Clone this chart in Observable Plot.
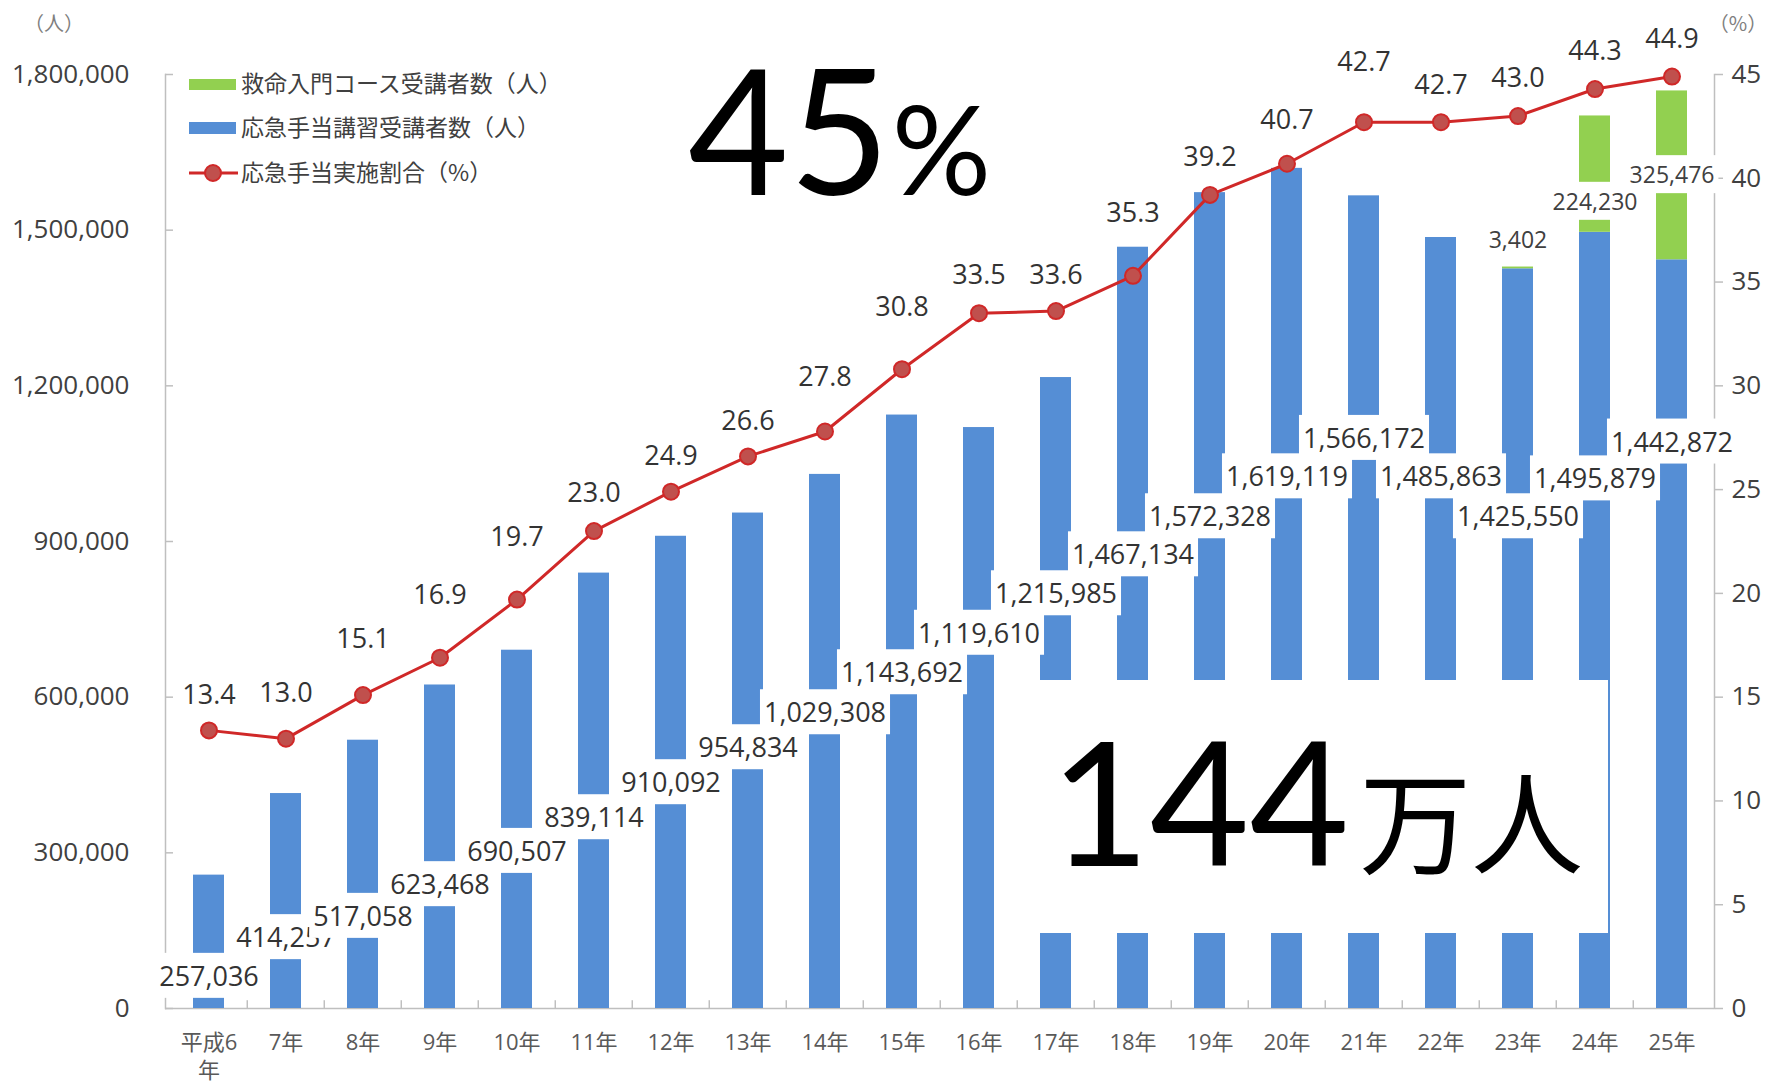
<!DOCTYPE html>
<html>
<head>
<meta charset="utf-8">
<script src="https://cdn.jsdelivr.net/npm/d3@7"></script>
<script src="https://cdn.jsdelivr.net/npm/@observablehq/plot@0.6"></script>
<style>
html,body{margin:0;padding:0;background:#fff;}
#wrap{position:relative;width:1777px;height:1083px;overflow:hidden;background:#fff;}
#wrap svg.overlay{position:absolute;left:0;top:0;pointer-events:none;}
#wrap svg.chart{position:absolute;left:0;top:0;}
</style>
</head>
<body>
<div id="wrap"></div>
<script>
// ---------- data ----------
const years = ["平成6年","7年","8年","9年","10年","11年","12年","13年","14年","15年","16年","17年","18年","19年","20年","21年","22年","23年","24年","25年"];
const xTickLabels = ["平成6\n年","7年","8年","9年","10年","11年","12年","13年","14年","15年","16年","17年","18年","19年","20年","21年","22年","23年","24年","25年"];
const seriesNames = ["救命入門コース受講者数（人）", "応急手当講習受講者数（人）", "応急手当実施割合（%）"];
const blueCounts = [257036, 414257, 517058, 623468, 690507, 839114, 910092, 954834, 1029308, 1143692, 1119610, 1215985, 1467134, 1572328, 1619119, 1566172, 1485863, 1425550, 1495879, 1442872];
const greenCounts = [0, 0, 0, 0, 0, 0, 0, 0, 0, 0, 0, 0, 0, 0, 0, 0, 0, 3402, 224230, 325476];
const rates = [13.4, 13.0, 15.1, 16.9, 19.7, 23.0, 24.9, 26.6, 27.8, 30.8, 33.5, 33.6, 35.3, 39.2, 40.7, 42.7, 42.7, 43.0, 44.3, 44.9];
// where each data label sits, in the units of its own axis
const blueLabelAt = [60300, 134900, 175900, 237000, 301100, 366000, 433500, 500900, 568300, 645400, 721500, 797600, 872700, 946000, 1023000, 1097000, 1023000, 946000, 1019000, 1090000];
const greenLabelAt = [null, null, null, null, null, null, null, null, null, null, null, null, null, null, null, null, null, 1479600, 1553400, 1604800];
const rateLabelAt = [15.1, 15.2, 17.8, 19.9, 22.7, 24.8, 26.6, 28.3, 30.4, 33.8, 35.3, 35.3, 38.3, 41.0, 42.8, 45.6, 44.5, 44.8, 46.1, 46.7];
const leftTicks = [0, 300000, 600000, 900000, 1200000, 1500000, 1800000];
const rightTicks = [0, 5, 10, 15, 20, 25, 30, 35, 40, 45];
const leftMax = 1800000, rightMax = 45;

// ---------- layout ----------
const W = 1777, H = 1083;
const M = {top: 74, right: 63, bottom: 75, left: 165};
const PER_PCT = leftMax / rightMax;
const step = (W - M.left - M.right) / years.length;
const fmt = d3.format(",");
const FONT = '"Open Sans","Noto Sans CJK JP",sans-serif';
const BLUE = "#558ED5", GREEN = "#92D050", RED = "#D02828", MARK = "#C0504D", AXIS = "#BFBFBF";

const barRows = [];
years.forEach((y, i) => barRows.push({year: y, series: seriesNames[1], value: blueCounts[i]}));
years.forEach((y, i) => barRows.push({year: y, series: seriesNames[0], value: greenCounts[i]}));
const rateRows = years.map((y, i) => ({year: y, rate: rates[i], at: rateLabelAt[i]}));
const blueLabels = years.map((y, i) => ({year: y, text: fmt(blueCounts[i]), at: blueLabelAt[i]}));
const greenLabels = years.map((y, i) => ({year: y, text: fmt(greenCounts[i]), at: greenLabelAt[i]})).filter((d, i) => greenCounts[i] > 0);

const chart = Plot.plot({
  width: W, height: H,
  marginTop: M.top, marginRight: M.right, marginBottom: M.bottom, marginLeft: M.left,
  style: {fontFamily: FONT, background: "white", overflow: "visible"},
  x: {type: "band", domain: years, paddingInner: 0.6, paddingOuter: 0.3, axis: null},
  y: {domain: [0, leftMax], axis: null},
  color: {domain: [seriesNames[1], seriesNames[0]], range: [BLUE, GREEN]},
  marks: [
    Plot.frame({anchor: "left", stroke: AXIS, strokeWidth: 1.5}),
    Plot.frame({anchor: "right", stroke: AXIS, strokeWidth: 1.5}),
    Plot.ruleY([0], {stroke: AXIS, strokeWidth: 1.5}),
    Plot.axisY(leftTicks, {anchor: "left", tickSize: -8, fill: "none", stroke: AXIS, strokeWidth: 1.5, label: null}),
    Plot.axisY(leftTicks, {anchor: "left", tickSize: 0, tickPadding: 36, tickFormat: fmt, fill: "#404040", fontSize: 26, label: null}),
    Plot.axisY(rightTicks.map(p => p * PER_PCT), {anchor: "right", tickSize: 8, tickPadding: 9, tickFormat: d => String(Math.round(d / PER_PCT)), stroke: AXIS, strokeWidth: 1.5, fill: "#404040", fontSize: 26, label: null}),
    Plot.axisX({tickSize: 0, tickPadding: 22, tickFormat: d => xTickLabels[years.indexOf(d)], fill: "#595959", fontSize: 22, lineHeight: 1.25, label: null}),
    Plot.ruleX(years.slice(1), {x: d => d, y1: 0, y2: 15000, dx: -step / 2, stroke: AXIS, strokeWidth: 1.5}),
    Plot.barY(barRows, {x: "year", y: "value", fill: "series"}),
    Plot.line(rateRows, {x: "year", y: d => d.rate * PER_PCT, stroke: RED, strokeWidth: 3}),
    Plot.dot(rateRows, {x: "year", y: d => d.rate * PER_PCT, r: 8, fill: MARK, stroke: RED, strokeWidth: 2}),
    Plot.text(blueLabels, {x: "year", y: "at", text: "text", fill: "#333333", fontSize: 27}),
    Plot.text(greenLabels, {x: "year", y: "at", text: "text", fill: "#404040", fontSize: 23}),
    Plot.text(rateRows, {x: "year", y: d => d.at * PER_PCT, text: d => d.rate.toFixed(1), fill: "#333333", fontSize: 27})
  ]
});
chart.classList.add("chart");
const wrap = document.getElementById("wrap");
wrap.appendChild(chart);

// white boxes behind data labels (drawn label by label, as in the original)
const svgRoot = chart.tagName.toLowerCase() === "svg" ? chart : chart.querySelector("svg");
const textGroups = Array.from(svgRoot.querySelectorAll('g[aria-label="text"]'));
function addBoxes(group, padX, padY) {
  if (!group) return;
  Array.from(group.querySelectorAll("text")).forEach(t => {
    const b = t.getBBox();
    const r = document.createElementNS("http://www.w3.org/2000/svg", "rect");
    r.setAttribute("x", b.x - padX);
    r.setAttribute("y", b.y - padY);
    r.setAttribute("width", b.width + 2 * padX);
    r.setAttribute("height", b.height + 2 * padY);
    r.setAttribute("fill", "white");
    if (t.getAttribute("transform")) r.setAttribute("transform", t.getAttribute("transform"));
    t.parentNode.insertBefore(r, t);
  });
}
addBoxes(textGroups[0], 4, 4);
addBoxes(textGroups[1], 4, 3);

// ---------- overlay: legend, units, callouts ----------
const ov = d3.create("svg").attr("class", "overlay").attr("width", W).attr("height", H)
  .attr("font-family", FONT);
// unit labels
ov.append("text").attr("x", 54).attr("y", 24).attr("text-anchor", "middle").attr("dy", "0.35em")
  .attr("font-size", 20).attr("fill", "#7f7f7f").attr("font-family", '"Noto Sans CJK JP",sans-serif').text("（人）");
ov.append("text").attr("x", 1738).attr("y", 24).attr("text-anchor", "middle").attr("dy", "0.35em")
  .attr("font-size", 20).attr("fill", "#7f7f7f").attr("font-family", '"Noto Sans CJK JP",sans-serif').text("（%）");
// legend
const lg = ov.append("g").attr("font-family", '"Noto Sans CJK JP",sans-serif').attr("font-size", 23).attr("fill", "#404040");
lg.append("rect").attr("x", 189).attr("y", 79).attr("width", 47).attr("height", 11).attr("fill", GREEN);
lg.append("text").attr("x", 241).attr("y", 84).attr("dy", "0.35em").text(seriesNames[0]);
lg.append("rect").attr("x", 189).attr("y", 122).attr("width", 47).attr("height", 12).attr("fill", BLUE);
lg.append("text").attr("x", 241).attr("y", 128).attr("dy", "0.35em").text(seriesNames[1]);
lg.append("line").attr("x1", 189).attr("x2", 238).attr("y1", 173).attr("y2", 173).attr("stroke", RED).attr("stroke-width", 3);
lg.append("circle").attr("cx", 213).attr("cy", 173).attr("r", 8).attr("fill", MARK).attr("stroke", RED).attr("stroke-width", 2);
lg.append("text").attr("x", 241).attr("y", 173).attr("dy", "0.35em").text(seriesNames[2]);
// callout 45%
const t45 = ov.append("text").attr("x", 688).attr("y", 195).attr("font-family", "Lato, sans-serif").attr("font-size", 174).attr("fill", "#000");
t45.append("tspan").text("45");
t45.append("tspan").attr("font-size", 124).attr("dx", 2).text("%");
// callout 144万人 in white box
ov.append("rect").attr("x", 1030).attr("y", 680).attr("width", 578).attr("height", 253).attr("fill", "white");
const t144 = ov.append("text").attr("x", 1050).attr("y", 866).attr("font-family", "Lato, sans-serif").attr("font-size", 172).attr("fill", "#000");
t144.append("tspan").text("144");
t144.append("tspan").attr("dx", 10).attr("font-family", '"Noto Sans CJK JP",sans-serif').attr("font-size", 112).text("万人");
wrap.appendChild(ov.node());
</script>
</body>
</html>
